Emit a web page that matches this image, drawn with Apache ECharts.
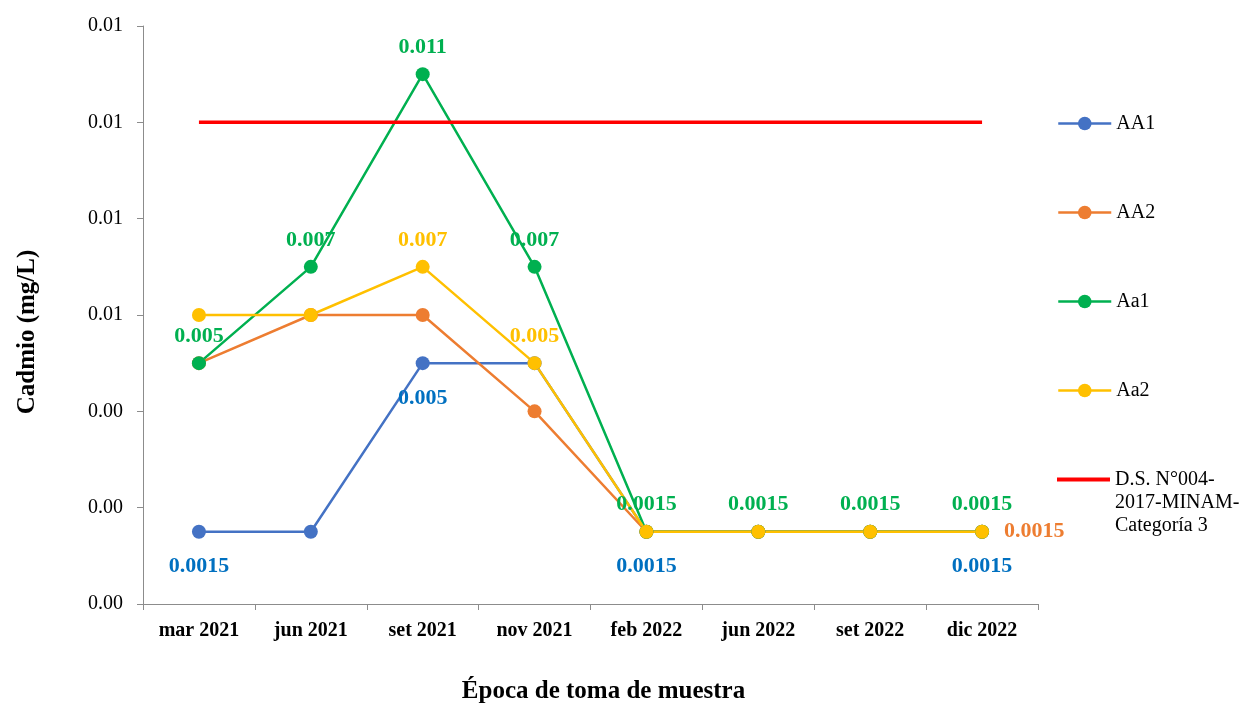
<!DOCTYPE html>
<html>
<head>
<meta charset="utf-8">
<script src="https://cdn.jsdelivr.net/npm/echarts@6/dist/echarts.min.js"></script>
<style>
  html, body { margin: 0; padding: 0; background: #ffffff; }
  #chart { width: 1248px; height: 705px; }
</style>
</head>
<body>
<div id="chart"></div>
<script>
// Sampling campaigns
const categories = ['mar 2021', 'jun 2021', 'set 2021', 'nov 2021', 'feb 2022', 'jun 2022', 'set 2022', 'dic 2022'];

// Cadmium concentration (mg/L) per station
const AA1 = [0.0015, 0.0015, 0.005, 0.005, 0.0015, 0.0015, 0.0015, 0.0015];
const AA2 = [0.005, 0.006, 0.006, 0.004, 0.0015, 0.0015, 0.0015, 0.0015];
const Aa1 = [0.005, 0.007, 0.011, 0.007, 0.0015, 0.0015, 0.0015, 0.0015];
const Aa2 = [0.006, 0.006, 0.007, 0.005, 0.0015, 0.0015, 0.0015, 0.0015];

// Environmental quality standard (D.S. N°004-2017-MINAM, Categoría 3)
const ECA = [0.01, 0.01, 0.01, 0.01, 0.01, 0.01, 0.01, 0.01];
const ECA_NAME = 'D.S. N°004-2017-MINAM-Categoría 3';

// Points that carry a value label
const AA1Labeled = [0, 2, 4, 7];
const AA2Labeled = [7];
const Aa1Labeled = [0, 1, 2, 3, 4, 5, 6, 7];
const Aa2Labeled = [2, 3];

// Y axis scale
const yMin = 0;
const yMax = 0.012;
const yStep = 0.002;

const serif = '"Liberation Serif", "Times New Roman", serif';

function withLabels(values, labeled, labelOpt) {
  return values.map((v, i) => labeled.includes(i)
    ? { value: v, label: Object.assign({ show: true }, labelOpt) }
    : { value: v });
}

function labelStyle(color, position, distance) {
  return {
    position: position,
    distance: distance,
    color: color,
    fontFamily: serif,
    fontWeight: 'bold',
    fontSize: 22
  };
}

function stationSeries(name, values, labeled, color, labelColor, position, distance) {
  return {
    name: name,
    type: 'line',
    data: withLabels(values, labeled, labelStyle(labelColor, position, distance)),
    symbol: 'circle',
    symbolSize: 14,
    itemStyle: { color: color },
    lineStyle: { color: color, width: 2.5 },
    label: { show: false },
    emphasis: { disabled: true },
    animation: false
  };
}

const legendText = { fontFamily: serif, fontSize: 20, color: '#000000', lineHeight: 23 };

const chart = echarts.init(document.getElementById('chart'), null, { renderer: 'canvas' });

chart.setOption({
  backgroundColor: '#ffffff',
  animation: false,
  grid: {
    left: 143, right: 210, top: 26, bottom: 101,
    containLabel: false,
    outerBoundsMode: 'none'
  },
  legend: [
    {
      orient: 'vertical',
      left: 1057,
      top: 112,
      padding: 0,
      itemWidth: 53,
      itemHeight: 17,
      itemGap: 66,
      lineStyle: { width: 2.5 },
      textStyle: legendText,
      data: ['AA1', 'AA2', 'Aa1', 'Aa2']
    },
    {
      // standard line: first text line sits level with its icon
      orient: 'vertical',
      left: 1057,
      top: 422,
      padding: 0,
      itemWidth: 53,
      itemHeight: 17,
      textStyle: legendText,
      data: [{ name: ECA_NAME, icon: 'path://M0,0L53,0L53,4L0,4Z' }],
      formatter: function () {
        return '\n\nD.S. N°004-\n2017-MINAM-\nCategoría 3';
      }
    }
  ],
  xAxis: {
    type: 'category',
    data: categories,
    boundaryGap: true,
    name: 'Época de toma de muestra',
    nameLocation: 'middle',
    nameGap: 75,
    nameTextStyle: {
      fontFamily: serif, fontWeight: 'bold', fontSize: 25, color: '#000000',
      padding: [0, 0, 0, 26]
    },
    axisLine: { show: true, lineStyle: { color: '#8c8c8c', width: 1 } },
    axisTick: { show: true, alignWithLabel: false, length: 6, lineStyle: { color: '#8c8c8c' } },
    axisLabel: {
      fontFamily: serif, fontWeight: 'bold', fontSize: 20, color: '#000000', margin: 17
    },
    splitLine: { show: false }
  },
  yAxis: {
    type: 'value',
    min: yMin,
    max: yMax,
    interval: yStep,
    name: 'Cadmio (mg/L)',
    nameLocation: 'middle',
    nameGap: 103,
    nameTextStyle: {
      fontFamily: serif, fontWeight: 'bold', fontSize: 25, color: '#000000',
      padding: [0, 34, 0, 0]
    },
    axisLine: { show: true, lineStyle: { color: '#8c8c8c', width: 1 } },
    axisTick: { show: true, length: 6, lineStyle: { color: '#8c8c8c' } },
    axisLabel: {
      fontFamily: serif, fontSize: 20, color: '#000000', margin: 20,
      formatter: function (v) { return v.toFixed(2); }
    },
    splitLine: { show: false }
  },
  series: [
    stationSeries('AA1', AA1, AA1Labeled, '#4472C4', '#0070C0', 'bottom', 17),
    stationSeries('AA2', AA2, AA2Labeled, '#ED7D31', '#ED7D31', 'right', 15),
    stationSeries('Aa1', Aa1, Aa1Labeled, '#00B050', '#00B050', 'top', 9),
    stationSeries('Aa2', Aa2, Aa2Labeled, '#FFC000', '#FFC000', 'top', 9),
    {
      name: ECA_NAME,
      type: 'line',
      data: ECA,
      symbol: 'none',
      itemStyle: { color: '#FF0000' },
      lineStyle: { color: '#FF0000', width: 3.5 },
      emphasis: { disabled: true },
      animation: false
    }
  ]
});
</script>
</body>
</html>
